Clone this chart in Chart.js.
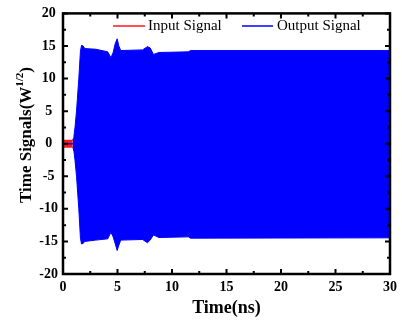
<!DOCTYPE html>
<html>
<head>
<meta charset="utf-8">
<script src="https://cdn.jsdelivr.net/npm/chart.js@4"></script>
<style>
  html, body { margin: 0; padding: 0; background: #fff; }
  #wrap { width: 402px; height: 322px; }
</style>
</head>
<body>
<div id="wrap"><canvas id="sigChart" width="402" height="322"></canvas></div>
<script>
// envelope of the output signal, ns / W^1/2
const timeNs = [0.88, 0.95, 1.0, 1.1, 1.24, 1.45, 1.6, 1.7, 1.85, 2.0, 3.0, 4.1, 4.4, 4.6, 4.8, 4.97, 5.12, 5.3, 7.3, 7.75, 8.0, 8.3, 8.8, 11.5, 11.7, 30]
const outputUpper = [0.6, 0.8, 1.1, 2.5, 5, 10, 14.2, 15.1, 15.0, 14.6, 14.5, 14.1, 13.2, 14.0, 15.4, 16.1, 15.0, 14.3, 14.4, 14.9, 14.7, 13.7, 14.0, 14.1, 14.3, 14.3]
const outputLower = [-0.6, -0.8, -1.1, -2.5, -5, -10, -14.5, -15.4, -15.3, -15.0, -14.8, -14.6, -13.6, -14.3, -15.4, -16.4, -15.6, -14.8, -14.7, -15.2, -14.8, -14.0, -14.4, -14.3, -14.5, -14.45]

// input pulse band + the quiet output before it grows
const inputTime = [0, 0.9]
const inputUpper = [0.5, 0.5]
const inputLower = [-0.5, -0.5]
const idleTime = [0, 0.9]
const idleOutput = [0, 0]

const xTicks = [0, 5, 10, 15, 20, 25, 30]
const yTicks = [-20, -15, -10, -5, 0, 5, 10, 15, 20]

const serif = '"Liberation Serif", "Times New Roman", serif'
const BLUE = '#0000ff'
const RED = '#ff1a1a'

function pts(xs, ys) {
  return xs.map((x, i) => ({x: x, y: ys[i]}))
}

// frame, inward ticks, titles and legend
const decor = {
  id: 'decor',
  afterDraw(chart) {
    const ctx = chart.ctx
    const a = chart.chartArea
    const xs = chart.scales.x
    const ys = chart.scales.y
    ctx.save()
    ctx.strokeStyle = '#000'

    // ticks (major + minor halfway)
    ctx.lineWidth = 2
    ctx.beginPath()
    for (let i = 0; i < xTicks.length; i++) {
      const px = xs.getPixelForValue(xTicks[i])
      ctx.moveTo(px, a.bottom); ctx.lineTo(px, a.bottom - 5)
      ctx.moveTo(px, a.top); ctx.lineTo(px, a.top + 5)
      if (i < xTicks.length - 1) {
        const mx = xs.getPixelForValue((xTicks[i] + xTicks[i + 1]) / 2)
        ctx.moveTo(mx, a.bottom); ctx.lineTo(mx, a.bottom - 3)
        ctx.moveTo(mx, a.top); ctx.lineTo(mx, a.top + 3)
      }
    }
    for (let i = 0; i < yTicks.length; i++) {
      const py = ys.getPixelForValue(yTicks[i])
      ctx.moveTo(a.left, py); ctx.lineTo(a.left + 5, py)
      ctx.moveTo(a.right, py); ctx.lineTo(a.right - 5, py)
      if (i < yTicks.length - 1) {
        const my = ys.getPixelForValue((yTicks[i] + yTicks[i + 1]) / 2)
        ctx.moveTo(a.left, my); ctx.lineTo(a.left + 3, my)
        ctx.moveTo(a.right, my); ctx.lineTo(a.right - 3, my)
      }
    }
    ctx.stroke()

    ctx.lineWidth = 2.5
    ctx.strokeRect(a.left, a.top, a.right - a.left, a.bottom - a.top)

    // x title
    ctx.fillStyle = '#000'
    ctx.font = 'bold 18px ' + serif
    ctx.textAlign = 'center'
    ctx.textBaseline = 'middle'
    ctx.fillText('Time(ns)', (a.left + a.right) / 2, 308)

    // y title with superscript, rotated
    const mainFont = 'bold 17px ' + serif
    const supFont = 'bold 11px ' + serif
    ctx.font = mainFont
    const w1 = ctx.measureText('Time Signals(W').width
    const w3 = ctx.measureText(')').width
    ctx.font = supFont
    const w2 = ctx.measureText('1/2').width
    const total = w1 + w2 + w3
    ctx.translate(25, 135)
    ctx.rotate(-Math.PI / 2)
    ctx.textAlign = 'left'
    ctx.textBaseline = 'alphabetic'
    let cx = -total / 2
    ctx.font = mainFont
    ctx.fillText('Time Signals(W', cx, 6)
    cx += w1
    ctx.font = supFont
    ctx.fillText('1/2', cx, -2)
    cx += w2
    ctx.font = mainFont
    ctx.fillText(')', cx, 6)
    ctx.setTransform(1, 0, 0, 1, 0, 0)

    // legend inside the frame
    ctx.lineWidth = 1.5
    ctx.strokeStyle = RED
    ctx.beginPath(); ctx.moveTo(113, 26); ctx.lineTo(145, 26); ctx.stroke()
    ctx.strokeStyle = BLUE
    ctx.beginPath(); ctx.moveTo(242, 26); ctx.lineTo(273, 26); ctx.stroke()
    ctx.fillStyle = '#000'
    ctx.font = '15px ' + serif
    ctx.textAlign = 'left'
    ctx.textBaseline = 'middle'
    ctx.fillText('Input Signal', 148, 26)
    ctx.fillText('Output Signal', 277, 26)
    ctx.restore()
  }
}

const sigChart = new Chart(document.getElementById('sigChart'), {
  type: 'line',
  data: {
    datasets: [
      {
        label: 'Output Signal',
        data: pts(timeNs, outputUpper),
        borderColor: BLUE,
        backgroundColor: BLUE,
        borderWidth: 1,
        fill: '+1',
        order: 3
      },
      {
        label: 'Output lower',
        data: pts(timeNs, outputLower),
        borderColor: BLUE,
        borderWidth: 1,
        fill: false,
        order: 3
      },
      {
        label: 'Input Signal',
        data: pts(inputTime, inputUpper),
        borderColor: RED,
        backgroundColor: RED,
        borderWidth: 1.5,
        fill: '+1',
        order: 2
      },
      {
        label: 'Input lower',
        data: pts(inputTime, inputLower),
        borderColor: RED,
        borderWidth: 1.5,
        fill: false,
        order: 2
      },
      {
        label: 'Output idle',
        data: pts(idleTime, idleOutput),
        borderColor: BLUE,
        borderWidth: 1.5,
        fill: false,
        order: 1
      }
    ]
  },
  options: {
    responsive: false,
    animation: false,
    devicePixelRatio: 1,
    layout: {padding: {left: 0, right: 7, top: 7, bottom: 0}},
    elements: {point: {radius: 0}, line: {tension: 0}},
    plugins: {legend: {display: false}, tooltip: {enabled: false}},
    scales: {
      x: {
        type: 'linear',
        min: 0,
        max: 30,
        grid: {display: false, drawTicks: false},
        border: {display: false},
        afterBuildTicks: (s) => { s.ticks = xTicks.map(v => ({value: v})) },
        afterFit: (s) => { s.height = 48 },
        ticks: {
          padding: 5,
          color: '#000',
          font: {family: serif, size: 14, weight: 'bold'}
        }
      },
      y: {
        type: 'linear',
        min: -20,
        max: 20,
        grid: {display: false, drawTicks: false},
        border: {display: false},
        afterBuildTicks: (s) => { s.ticks = yTicks.map(v => ({value: v})) },
        afterFit: (s) => { s.width = 63 },
        ticks: {
          padding: 5,
          crossAlign: 'center',
          color: '#000',
          font: {family: serif, size: 14, weight: 'bold'}
        }
      }
    }
  },
  plugins: [decor]
})
</script>
</body>
</html>
